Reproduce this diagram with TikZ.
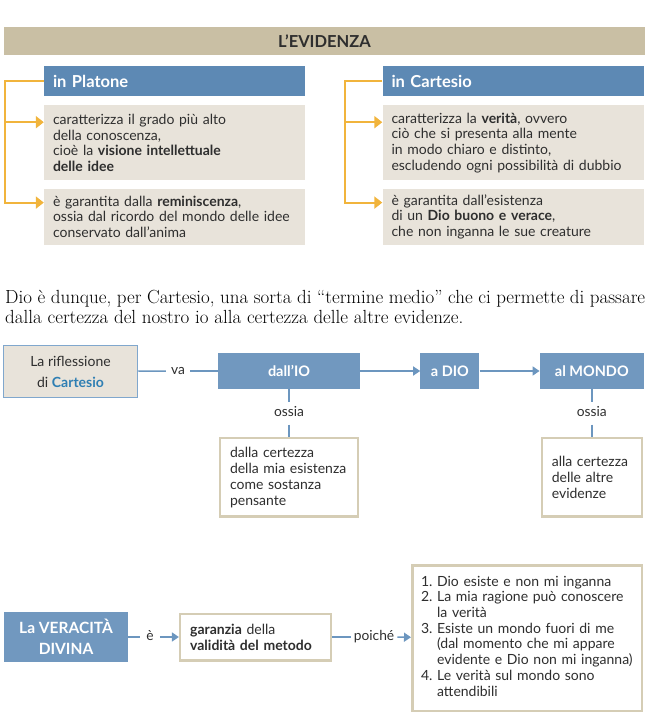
\documentclass[tikz,border=0pt]{standalone}
\usepackage{fontspec}
\setsansfont{Lato}
\usetikzlibrary{positioning,arrows.meta}
\definecolor{sabbia}{HTML}{C9BFA4}
\definecolor{blu}{HTML}{5D89B4}
\definecolor{azzurro}{HTML}{7198BF}
\definecolor{beige}{HTML}{E8E3DA}
\definecolor{arancio}{HTML}{F1B43C}
\definecolor{bordo}{HTML}{D5CDB5}
\definecolor{bordoblu}{HTML}{80A7CD}
\definecolor{grigio}{HTML}{2E2E2E}
\definecolor{cart}{HTML}{2F7FB3}
\definecolor{linea}{HTML}{6C96BF}

\begin{document}
\begin{tikzpicture}
  [x=1pt,y=-1pt,
   tit/.style={fill=sabbia,minimum width=641pt,minimum height=28pt,text=grigio,
     font=\sffamily\bfseries\fontsize{16.5}{18}\selectfont},
   hd/.style={fill=blu,text=white,text width=243pt,inner xsep=9pt,minimum height=30pt,
     align=left,font=\sffamily\bfseries\fontsize{16.5}{18}\selectfont},
   bx/.style={fill=beige,text=grigio,text width=243pt,inner xsep=9pt,align=left,
     font=\sffamily\fontsize{14}{15.7}\selectfont},
   ramo/.style={draw=arancio,line width=2pt,-{Triangle[width=12pt,length=8pt]}},
   fb/.style={fill=azzurro,text=white,minimum height=36pt,align=center,
     font=\sffamily\bfseries\fontsize{14.5}{20}\selectfont},
   wb/.style={draw=bordo,line width=2.5pt,fill=white,text=grigio,inner xsep=10pt,align=left,
     font=\sffamily\fontsize{14}{16}\selectfont},
   lb/.style={text=grigio,inner xsep=5pt,inner ysep=5.5pt,text height=9pt,text depth=2pt,
     font=\sffamily\fontsize{13.8}{15}\selectfont},
   ln/.style={draw=linea,line width=1.5pt},
   ar/.style={ln,-{Triangle[width=9pt,length=7pt]}}]
  \useasboundingbox (0,0) rectangle (662,722);

  \node[tit](ev) at (324.5,41) {L’EVIDENZA};

  \node[hd](pl) at (174.5,81) {in Platone};
  \node[bx,minimum height=75pt](pa)[below=9pt of pl]{caratterizza il grado più alto\\della conoscenza,\\cioè la \textbf{visione intellettuale}\\\textbf{delle idee}};
  \node[bx,minimum height=56pt](pb)[below=8pt of pa]{è garantita dalla \textbf{reminiscenza},\\ossia dal ricordo del mondo delle idee\\conservato dall’anima};
  \draw[ramo] (pl.west) -- (5,81) |- ([yshift=-17pt]pa.north west);
  \draw[ramo] (5,81) |- ([yshift=-14pt]pb.north west);

  \node[hd](ca) at (513,81) {in Cartesio};
  \node[bx,minimum height=75pt](cb)[below=9pt of ca]{caratterizza la \textbf{verità}, ovvero\\ciò che si presenta alla mente\\in modo chiaro e distinto,\\escludendo ogni possibilità di dubbio};
  \node[bx,minimum height=56pt](cc)[below=8pt of cb]{è garantita dall’esistenza\\di un \textbf{Dio buono e verace},\\che non inganna le sue creature};
  \draw[ramo] (ca.west) -- (345,81) |- ([yshift=-17pt]cb.north west);
  \draw[ramo] (345,81) |- ([yshift=-14pt]cc.north west);

  \node[anchor=west,text width=640pt,align=justify,inner sep=0pt,
    font=\fontsize{19}{20}\selectfont](tx) at (5,307)
    {Dio è dunque, per Cartesio, una sorta di “termine medio” che ci permette di passare\linebreak dalla certezza del nostro io alla certezza delle altre evidenze.};

  \node[draw=bordoblu,line width=1.5pt,fill=beige,text=grigio,minimum width=134pt,minimum height=52pt,
    align=center,font=\sffamily\fontsize{14}{21}\selectfont](ri) at (70.5,371.5)
    {La riflessione\\di {\color{cart}\bfseries Cartesio}};
  \node[lb](va) at (178,371) {va};
  \node[fb,minimum width=142pt](io) at (289,371) {dall’IO};
  \node[fb,minimum width=59pt](dio)[right=60pt of io]{a DIO};
  \node[fb,minimum width=104pt](mo)[right=60pt of dio]{al MONDO};
  \node[lb](o1)[below=13pt of io]{ossia};
  \node[wb,text width=118pt,minimum height=78.5pt](c1)[below=12pt of o1]{dalla certezza\\della mia esistenza\\come sostanza\\pensante};
  \node[lb](o2)[below=13pt of mo]{ossia};
  \node[wb,text width=80pt,minimum height=78.5pt](c2)[below=12pt of o2]{alla certezza\\delle altre\\evidenze};
  \path (ri) edge[ln] (va)
        (va) edge[ln] (io)
        (io) edge[ar] (dio)
             edge[ln] (o1)
        (dio) edge[ar] (mo)
        (mo) edge[ln] (o2)
        (o1) edge[ln] (c1)
        (o2) edge[ln] (c2);

  \node[fb,minimum width=124pt,minimum height=50pt,font=\sffamily\bfseries\fontsize{15.5}{21}\selectfont](ve) at (66,637) {La VERACITÀ\\DIVINA};
  \node[lb,inner xsep=6pt](e)[right=12pt of ve]{è};
  \node[wb,text width=131pt,minimum height=46.5pt](ga)[right=19pt of e]{\textbf{garanzia} della\\\textbf{validità del metodo}};
  \node[lb,inner xsep=3pt](po) at (374,637) {poiché};
  \node[wb,text width=212pt,inner xsep=8.75pt,minimum height=145.5pt,
    font=\sffamily\fontsize{14}{15.7}\selectfont](li) at (527,638)
    {\begin{tabular}{@{}l@{\ }l@{}}
      1.&Dio esiste e non mi inganna\\
      2.&La mia ragione può conoscere\\
        &la verità\\
      3.&Esiste un mondo fuori di me\\
        &(dal momento che mi appare\\
        &evidente e Dio non mi inganna)\\
      4.&Le verità sul mondo sono\\
        &attendibili
    \end{tabular}};
  \path (ve) edge[ln] (e)
        (e) edge[ar] (ga)
        (ga) edge[ln] (po)
        (po) edge[ar] (li);
\end{tikzpicture}
\end{document}
